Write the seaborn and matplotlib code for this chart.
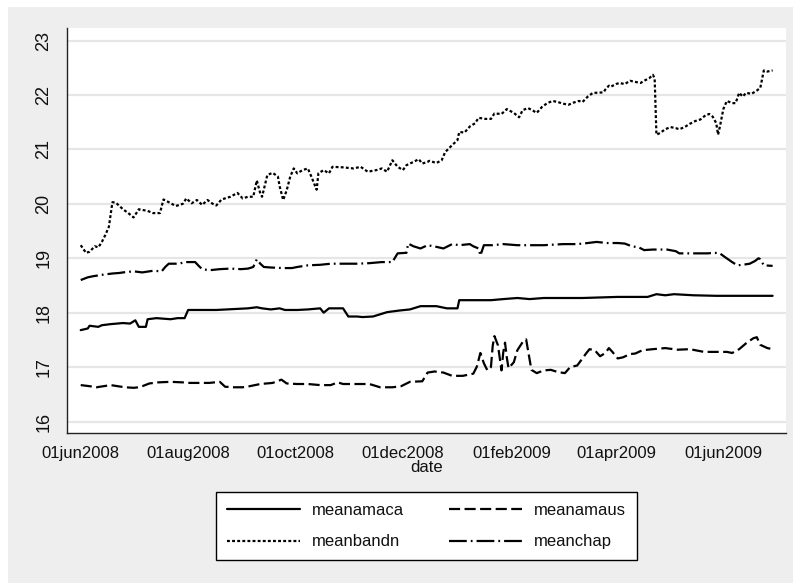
import numpy as np
import pandas as pd
import matplotlib
matplotlib.use("Agg")
import matplotlib.pyplot as plt
import seaborn as sns
from matplotlib.patches import Rectangle
from matplotlib.lines import Line2D

# ---------------- data (days since 01jun2008) ----------------
START = "2008-06-01"

amaca_days = [0, 4, 5, 10, 12, 17, 24, 28, 31, 33, 37, 38, 43, 51, 55, 59, 61, 69, 77, 83,
              95, 100, 103, 108, 113, 116, 123, 129, 136, 138, 141, 149, 152, 157, 160, 166,
              174, 181, 187, 193, 202, 208, 214, 215, 225, 233, 240, 248, 255, 263, 278, 285,
              295, 305, 322, 327, 332, 337, 348, 361, 373, 393]
amaca = [17.68, 17.71, 17.76, 17.74, 17.77, 17.79, 17.81, 17.80, 17.86, 17.74, 17.74, 17.88,
         17.90, 17.88, 17.90, 17.90, 18.05, 18.05, 18.05, 18.06, 18.08, 18.10, 18.08, 18.06,
         18.08, 18.05, 18.05, 18.06, 18.08, 18.00, 18.08, 18.08, 17.93, 17.93, 17.92, 17.93,
         18.01, 18.04, 18.06, 18.12, 18.12, 18.08, 18.08, 18.23, 18.23, 18.23, 18.25, 18.27,
         18.25, 18.27, 18.27, 18.27, 18.28, 18.29, 18.29, 18.34, 18.32, 18.34, 18.32, 18.31,
         18.31, 18.31]

amaus_days = [0, 5, 9, 13, 17, 21, 25, 30, 33, 35, 39, 44, 51, 58, 62, 68, 73, 79, 82, 87,
              92, 96, 102, 109, 114, 117, 123, 129, 136, 142, 146, 149, 157, 164, 170, 177,
              182, 187, 194, 197, 201, 206, 211, 217, 223, 225, 227, 229, 231, 233, 234, 235,
              237, 239, 240, 241, 242, 243, 246, 248, 251, 253, 254, 256, 259, 263, 267, 271,
              275, 278, 282, 285, 287, 289, 292, 295, 298, 300, 302, 305, 308, 312, 315, 319,
              325, 332, 339, 346, 354, 361, 367, 370, 374, 378, 382, 384, 386, 390, 393]
amaus = [16.67, 16.65, 16.63, 16.65, 16.67, 16.65, 16.63, 16.62, 16.63, 16.65, 16.70, 16.72,
         16.73, 16.72, 16.71, 16.71, 16.71, 16.73, 16.64, 16.63, 16.63, 16.65, 16.69, 16.71,
         16.77, 16.70, 16.69, 16.69, 16.67, 16.67, 16.72, 16.69, 16.69, 16.69, 16.63, 16.63,
         16.65, 16.73, 16.74, 16.90, 16.92, 16.90, 16.84, 16.84, 16.88, 17.01, 17.26, 17.07,
         16.94, 17.00, 17.39, 17.57, 17.40, 16.94, 17.27, 17.45, 17.18, 16.98, 17.09, 17.31,
         17.46, 17.51, 17.32, 16.95, 16.89, 16.94, 16.95, 16.91, 16.89, 17.00, 17.03, 17.16,
         17.25, 17.33, 17.31, 17.20, 17.26, 17.35, 17.28, 17.16, 17.18, 17.24, 17.25, 17.31,
         17.33, 17.35, 17.32, 17.33, 17.28, 17.28, 17.28, 17.26, 17.33, 17.44, 17.53, 17.55,
         17.41, 17.35, 17.33]

bandn_days = [0, 3, 5, 8, 10, 12, 14, 16, 18, 20, 24, 27, 30, 33, 38, 41, 45, 47, 50, 54,
              58, 60, 63, 66, 69, 72, 75, 77, 80, 85, 89, 92, 95, 98, 100, 102, 103, 105, 106,
              109, 112, 113, 115, 117, 119, 121, 123, 126, 129, 131, 134, 135, 138, 141, 143,
              149, 155, 159, 163, 168, 171, 174, 177, 180, 183, 185, 189, 192, 194, 197, 198,
              202, 205, 207, 211, 214, 215, 218, 221, 224, 226, 230, 233, 235, 239, 242, 246,
              249, 251, 254, 257, 259, 262, 265, 268, 271, 274, 277, 280, 283, 285, 288, 291,
              294, 297, 298, 300, 301, 304, 306, 309, 312, 315, 318, 320, 323, 325, 326, 327,
              329, 332, 335, 338, 340, 343, 346, 349, 352, 355, 357, 359, 361, 362, 363, 365,
              367, 370, 372, 374, 376, 378, 381, 384, 386, 388, 390, 393]
bandn = [19.24, 19.10, 19.12, 19.22, 19.20, 19.30, 19.43, 19.58, 20.03, 20.02, 19.90, 19.83,
         19.75, 19.90, 19.87, 19.83, 19.83, 20.08, 20.03, 19.96, 20.00, 20.10, 20.01, 20.07,
         19.98, 20.07, 20.00, 19.97, 20.08, 20.13, 20.20, 20.10, 20.13, 20.13, 20.43, 20.19,
         20.13, 20.40, 20.53, 20.57, 20.50, 20.32, 20.07, 20.25, 20.50, 20.65, 20.56, 20.62,
         20.65, 20.50, 20.26, 20.56, 20.62, 20.56, 20.68, 20.67, 20.65, 20.68, 20.59, 20.62,
         20.65, 20.59, 20.80, 20.68, 20.62, 20.71, 20.77, 20.82, 20.74, 20.77, 20.79, 20.75,
         20.80, 20.95, 21.08, 21.17, 21.32, 21.31, 21.42, 21.48, 21.58, 21.56, 21.56, 21.66,
         21.65, 21.74, 21.67, 21.59, 21.72, 21.76, 21.71, 21.67, 21.78, 21.85, 21.89, 21.87,
         21.84, 21.82, 21.86, 21.89, 21.87, 21.97, 22.04, 22.04, 22.05, 22.10, 22.17, 22.15,
         22.20, 22.22, 22.20, 22.26, 22.24, 22.22, 22.26, 22.31, 22.37, 22.30, 21.27, 21.30,
         21.37, 21.41, 21.39, 21.37, 21.41, 21.47, 21.52, 21.55, 21.63, 21.65, 21.60, 21.48,
         21.27, 21.41, 21.74, 21.89, 21.85, 21.85, 22.04, 21.97, 22.04, 22.02, 22.08, 22.13,
         22.45, 22.43, 22.45]

chap_days = [0, 4, 7, 13, 18, 22, 24, 30, 35, 41, 46, 48, 50, 52, 56, 59, 65, 67, 69, 73,
             79, 85, 91, 95, 98, 100, 102, 104, 108, 115, 120, 123, 129, 136, 142, 149, 157,
             164, 171, 177, 180, 185, 186, 189, 193, 197, 202, 206, 211, 215, 221, 223, 226,
             227, 229, 234, 240, 248, 255, 263, 274, 282, 288, 293, 299, 305, 309, 313, 317,
             320, 325, 333, 338, 340, 348, 356, 360, 363, 366, 370, 373, 376, 380, 383, 385,
             386, 388, 393]
chap = [18.60, 18.65, 18.67, 18.70, 18.72, 18.73, 18.74, 18.76, 18.74, 18.77, 18.76, 18.84,
        18.90, 18.90, 18.90, 18.93, 18.93, 18.86, 18.80, 18.78, 18.80, 18.81, 18.80, 18.81,
        18.84, 18.98, 18.90, 18.84, 18.83, 18.82, 18.82, 18.84, 18.87, 18.88, 18.90, 18.90,
        18.90, 18.91, 18.93, 18.93, 19.09, 19.10, 19.27, 19.22, 19.18, 19.24, 19.21, 19.18,
        19.26, 19.24, 19.26, 19.22, 19.18, 19.05, 19.24, 19.24, 19.26, 19.24, 19.24, 19.24,
        19.26, 19.26, 19.28, 19.30, 19.28, 19.28, 19.27, 19.22, 19.20, 19.15, 19.16, 19.16,
        19.13, 19.09, 19.09, 19.09, 19.10, 19.09, 19.02, 18.93, 18.87, 18.88, 18.90, 18.95,
        19.00, 18.98, 18.87, 18.86]

tick_dates = ["2008-06-01", "2008-08-01", "2008-10-01", "2008-12-01",
              "2009-02-01", "2009-04-01", "2009-06-01"]
tick_labels = ["01jun2008", "01aug2008", "01oct2008", "01dec2008",
               "01feb2009", "01apr2009", "01jun2009"]
y_ticks = [16, 17, 18, 19, 20, 21, 22, 23]

# ---------------- style ----------------
sns.set_style("white")
plt.rcParams['font.family'] = ['Liberation Sans', 'DejaVu Sans']
FS = 12

W, H = 793, 585
fig = plt.figure(figsize=(W / 100, H / 100), dpi=100, facecolor='white')
fig.patches.append(Rectangle((8 / W, 2 / H), 1 - 8 / W, (H - 9) / H,
                             transform=fig.transFigure, facecolor='#eeeeee',
                             edgecolor='none', zorder=-10))
ax = fig.add_axes([67 / W, 1 - 433 / H, (786 - 67) / W, (433 - 28) / H])
ax.set_facecolor('white')

start = pd.Timestamp(START)


def to_dates(days):
    return start + pd.to_timedelta(np.asarray(days), unit="D")


LW = 1.6
styles = {
    "meanamaca": "-",
    "meanamaus": (0, (5, 2)),
    "meanbandn": (0, (1.3, 1.0)),
    "meanchap": (0, (8, 1.8, 0.8, 1.8)),
}
series = [("meanamaca", amaca_days, amaca), ("meanamaus", amaus_days, amaus),
          ("meanbandn", bandn_days, bandn), ("meanchap", chap_days, chap)]

for name, d, v in series:
    df = pd.DataFrame({"date": to_dates(d), "value": v})
    sns.lineplot(data=df, x="date", y="value", ax=ax, color='black', lw=LW,
                 linestyle=styles[name], estimator=None, legend=False, zorder=3)

# axes
ax.set_xlim(start - pd.Timedelta(days=7.8), start + pd.Timedelta(days=400.6))
ax.set_ylim(15.79, 23.23)
ax.set_yticks(y_ticks)
ax.set_yticklabels([str(t) for t in y_ticks], rotation=90, va='center')
ax.set_xticks(pd.to_datetime(tick_dates))
ax.set_xticklabels(tick_labels)
ax.grid(False)
for t in y_ticks:
    ax.axhline(t, color='#e6e6e6', lw=1.6, zorder=1)

for s in ['top', 'right']:
    ax.spines[s].set_visible(False)
for s in ['left', 'bottom']:
    ax.spines[s].set_color('#222222')
    ax.spines[s].set_linewidth(1.0)
ax.tick_params(axis='both', direction='out', length=5.5, width=1.0, color='#222222',
               labelsize=FS, labelcolor='#111111', pad=4)
ax.tick_params(axis='y', labelsize=13, pad=5)
ax.set_xlabel("date", fontsize=FS, color='#111111', labelpad=-1)
ax.set_ylabel("")

# legend
handles = [Line2D([], [], color='black', lw=LW, linestyle=styles[n]) for n in
           ["meanamaca", "meanbandn", "meanamaus", "meanchap"]]
labels = ["meanamaca", "meanbandn", "meanamaus", "meanchap"]
leg = fig.legend(handles, labels, ncol=2, loc='center',
                 bbox_to_anchor=(426.5 / W, 1 - 526 / H), frameon=True,
                 fancybox=False, edgecolor='black', framealpha=1, fontsize=FS,
                 handlelength=4.4, handletextpad=0.7, columnspacing=2.7,
                 labelspacing=1.0, borderpad=0.65)
leg.get_frame().set_linewidth(1.0)
for txt in leg.get_texts():
    txt.set_color('#111111')

fig.savefig("out.png", dpi=100, facecolor=fig.get_facecolor())
